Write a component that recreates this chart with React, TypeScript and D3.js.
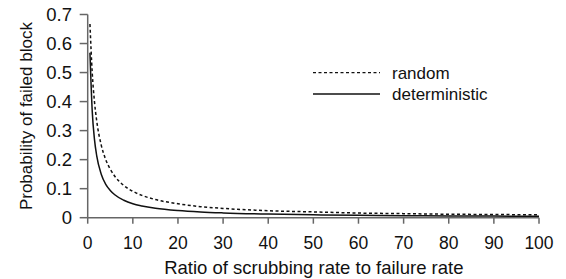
import React from "react";
import * as d3 from "d3";

const ratios = [0.5, 1, 1.5, 2, 3, 4, 5, 6, 8, 10, 12, 15, 20, 25, 30, 40, 50, 60, 70, 80, 90, 100];
const randomVals = [0.667, 0.5, 0.4, 0.333, 0.25, 0.2, 0.167, 0.143, 0.111, 0.091, 0.077, 0.0625, 0.048, 0.038, 0.032, 0.024, 0.02, 0.016, 0.014, 0.012, 0.011, 0.0099];
const deterministicVals = [0.568, 0.368, 0.27, 0.213, 0.15, 0.115, 0.094, 0.079, 0.06, 0.048, 0.0405, 0.0326, 0.0246, 0.0197, 0.0165, 0.0124, 0.0099, 0.0083, 0.0071, 0.0062, 0.0055, 0.005];
const xTicks = [0, 10, 20, 30, 40, 50, 60, 70, 80, 90, 100];
const yTicks = [0, 0.1, 0.2, 0.3, 0.4, 0.5, 0.6, 0.7];
const seriesNames = ["random", "deterministic"];
const xLabel = "Ratio of scrubbing rate to failure rate";
const yLabel = "Probability of failed block";

export default function App() {
  const W = 566, H = 279;
  const x = d3.scaleLinear().domain([0, 100]).range([87.7, 539]);
  const y = d3.scaleLinear().domain([0, 0.7]).range([217.7, 14.5]);
  const line = d3
    .line<[number, number]>()
    .x((d) => x(d[0]))
    .y((d) => y(d[1]))
    .curve(d3.curveMonotoneX);
  const rnd = line(ratios.map((r, i) => [r, randomVals[i]]) as [number, number][]) || "";
  const det = line(ratios.map((r, i) => [r, deterministicVals[i]]) as [number, number][]) || "";
  const font = "'Liberation Sans', Arial, Helvetica, sans-serif";
  const axisColor = "#666";
  const x0 = x(0), y0 = y(0);
  return (
    <svg width={W} height={H} style={{ position: "absolute", left: 0, top: 0, background: "#fff" }} fontFamily={font}>
      {/* axes */}
      <line x1={x0} x2={x(100)} y1={y0} y2={y0} stroke={axisColor} strokeWidth={1.5} />
      <line x1={x0} x2={x0} y1={y(0.7)} y2={y0} stroke={axisColor} strokeWidth={1.5} />
      {xTicks.map((t) => (
        <g key={"x" + t}>
          <line x1={x(t)} x2={x(t)} y1={y0} y2={y0 + 6} stroke={axisColor} strokeWidth={1.5} />
          <text x={x(t)} y={249} fontSize={17.5} textAnchor="middle" fill="#111">
            {t}
          </text>
        </g>
      ))}
      {yTicks.map((t) => (
        <g key={"y" + t}>
          <line x1={x0 - 8} x2={x0} y1={y(t)} y2={y(t)} stroke={axisColor} strokeWidth={1.5} />
          <text x={72} y={y(t)} dy="0.36em" fontSize={18.5} textAnchor="end" fill="#111">
            {t === 0 ? "0" : t.toFixed(1)}
          </text>
        </g>
      ))}
      <text x={(x(0) + x(100)) / 2 + 0.5} y={274} fontSize={18.5} textAnchor="middle" fill="#111">
        {xLabel}
      </text>
      <text transform={`translate(32,${(y(0) + y(0.7)) / 2}) rotate(-90)`} fontSize={17} textAnchor="middle" fill="#111">
        {yLabel}
      </text>
      {/* curves */}
      <path d={rnd} fill="none" stroke="#111" strokeWidth={1.5} strokeDasharray="3,2.5" />
      <path d={det} fill="none" stroke="#111" strokeWidth={1.5} />
      {/* legend */}
      <line x1={313} x2={380} y1={72.7} y2={72.7} stroke="#111" strokeWidth={1.3} strokeDasharray="3,2.5" />
      <text x={392} y={72.7} dy="0.35em" fontSize={17} fill="#111">{seriesNames[0]}</text>
      <line x1={313} x2={380} y1={94} y2={94} stroke="#111" strokeWidth={1.5} />
      <text x={392} y={94} dy="0.35em" fontSize={17} fill="#111">{seriesNames[1]}</text>
    </svg>
  );
}
